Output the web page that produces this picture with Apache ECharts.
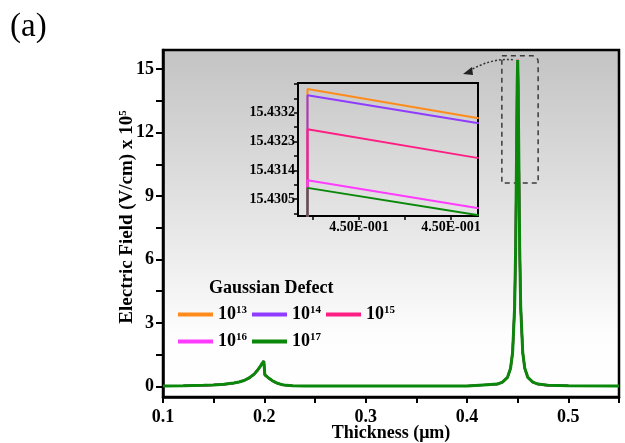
<!DOCTYPE html>
<html>
<head>
<meta charset="utf-8">
<script src="https://cdn.jsdelivr.net/npm/echarts@6/dist/echarts.min.js"></script>
<style>
  html, body { margin: 0; padding: 0; background: #fff; }
  #c { width: 625px; height: 443px; }
</style>
</head>
<body>
<div id="c"></div>
<script>
// Thickness (µm) sample positions of the field profile
const thickness = [0.10, 0.12, 0.14, 0.15, 0.16, 0.17, 0.175, 0.18, 0.185, 0.19, 0.193, 0.196, 0.198, 0.1995, 0.2, 0.2005,
  0.202, 0.205, 0.208, 0.211, 0.214, 0.218, 0.222, 0.228, 0.24, 0.26, 0.30, 0.35, 0.40, 0.42, 0.43, 0.435, 0.44, 0.443,
  0.445, 0.447, 0.448, 0.449, 0.4495, 0.45, 0.4505, 0.451, 0.452, 0.453, 0.455, 0.457, 0.46, 0.465, 0.47, 0.48, 0.50, 0.55];
// Electric field (x 10^5 V/cm); the value at 0.45 µm is the per-dose peak below
const field = [0.02, 0.03, 0.05, 0.07, 0.10, 0.16, 0.21, 0.28, 0.40, 0.58, 0.75, 0.95, 1.10, 1.20, 1.24, 0.55,
  0.48, 0.37, 0.27, 0.19, 0.13, 0.08, 0.05, 0.03, 0.02, 0.02, 0.02, 0.02, 0.02, 0.08, 0.11, 0.20, 0.43, 0.86,
  1.6, 3.75, 6.5, 11.5, 14.2, null, 14.2, 11.5, 6.5, 3.75, 1.6, 0.86, 0.43, 0.20, 0.11, 0.05, 0.03, 0.02];
const peakIndex = 39;

// Gaussian defect doses (exponent of 10)
const doseExp = ['13', '14', '15', '16', '17'];
const doseColors = ['#ff8c1a', '#8f3cff', '#ff1f84', '#ff3cff', '#0a880a'];

// Zoomed peak region: field at the left edge and at the right edge of the window
const zoomX = [0.4499944, 0.4500130];
const peakLeft = [15.43394, 15.43375, 15.43268, 15.43109, 15.43085];
const peakRight = [15.43303, 15.43287, 15.43178, 15.43021, 15.42999];
const zoomFloor = 15.4290;

// Axis tick values
const mainXLabels = [0.1, 0.2, 0.3, 0.4, 0.5];
const mainXTicks = [0.1, 0.15, 0.2, 0.25, 0.3, 0.35, 0.4, 0.45, 0.5, 0.55];
const mainYLabels = [0, 3, 6, 9, 12, 15];
const mainYTicks = [0, 1.5, 3, 4.5, 6, 7.5, 9, 10.5, 12, 13.5, 15];
const zoomXLabels = [0.45000, 0.45001];
const zoomXTicks = [0.449995, 0.45000, 0.450005, 0.45001];
const zoomYLabels = [15.4305, 15.4314, 15.4323, 15.4332];
const zoomYTicks = [15.43005, 15.4305, 15.43095, 15.4314, 15.43185, 15.4323, 15.43275, 15.4332, 15.43365, 15.4341];

const FONT = 'Liberation Serif';
const seriesName = e => 'N' + e;

function sci(v) {
  const parts = v.toExponential(2).split('e');
  const e = parseInt(parts[1], 10);
  return parts[0] + 'E' + (e < 0 ? '-' : '+') + String(Math.abs(e)).padStart(3, '0');
}

const last = doseExp.length - 1;
const series = [];
doseExp.forEach((e, i) => {
  const data = thickness.map((x, k) => [x, k === peakIndex ? peakLeft[i] : field[k]]);
  series.push({
    name: seriesName(e), type: 'line', xAxisIndex: 0, yAxisIndex: 0,
    data, showSymbol: false, symbol: 'none', animation: false,
    color: doseColors[i],
    lineStyle: { width: i === last ? 3 : 2.2, color: doseColors[i] }
  });
});
doseExp.forEach((e, i) => {
  series.push({
    name: seriesName(e), type: 'line', xAxisIndex: 1, yAxisIndex: 1,
    data: [[zoomX[0], zoomFloor], [zoomX[0], peakLeft[i]], [zoomX[1], peakRight[i]]],
    showSymbol: false, symbol: 'none', animation: false, clip: true,
    color: doseColors[i],
    lineStyle: { width: 2, color: doseColors[i] }
  });
});

const legendCommon = {
  icon: 'rect', itemWidth: 35, itemHeight: 4, itemGap: 5, orient: 'horizontal',
  selectedMode: false,
  formatter: name => '{b|10}{s|' + name.slice(1) + '}',
  textStyle: {
    rich: {
      b: { fontFamily: FONT, fontWeight: 'bold', fontSize: 18, color: '#000' },
      s: { fontFamily: FONT, fontWeight: 'bold', fontSize: 11, color: '#000', verticalAlign: 'top', padding: [0, 0, 8, 0] }
    }
  }
};

const option = {
  animation: false,
  title: [
    { text: '(a)', left: 5, top: 6, textStyle: { fontFamily: FONT, fontWeight: 'normal', fontSize: 33, color: '#000' } },
    { text: 'Gaussian Defect', left: 204, top: 274, textStyle: { fontFamily: FONT, fontWeight: 'bold', fontSize: 18, color: '#000' } }
  ],
  legend: [
    Object.assign({ left: 173, top: 300, data: doseExp.slice(0, 3).map(seriesName) }, legendCommon),
    Object.assign({ left: 173, top: 327, data: doseExp.slice(3).map(seriesName) }, legendCommon)
  ],
  grid: [
    {
      left: 163, top: 50, right: 6, bottom: 46, show: true,
      outerBoundsMode: 'none', containLabel: false,
      borderColor: '#000', borderWidth: 2.5,
      backgroundColor: {
        type: 'linear', x: 0, y: 0, x2: 0, y2: 1,
        colorStops: [
          { offset: 0, color: '#c3c3c3' },
          { offset: 0.5, color: '#e6e6e6' },
          { offset: 0.82, color: '#fdfdfd' },
          { offset: 1, color: '#ffffff' }
        ]
      }
    },
    {
      left: 298, top: 83, width: 180, height: 133, show: true,
      outerBoundsMode: 'none', containLabel: false,
      borderColor: '#000', borderWidth: 2, backgroundColor: 'transparent'
    }
  ],
  xAxis: [
    {
      type: 'value', gridIndex: 0, min: 0.1, max: 0.55,
      name: 'Thickness (μm)', nameLocation: 'middle', nameGap: 27, nameMoveOverlap: false,
      nameTextStyle: { fontFamily: FONT, fontWeight: 'bold', fontSize: 18, color: '#000' },
      axisLine: { show: true, onZero: false, lineStyle: { color: '#000', width: 2.5 } },
      axisTick: { show: true, inside: false, length: 6, customValues: mainXTicks, lineStyle: { color: '#000', width: 2 } },
      axisLabel: { customValues: mainXLabels, margin: 11, fontFamily: FONT, fontWeight: 'bold', fontSize: 18, color: '#000', formatter: v => v.toFixed(1) },
      splitLine: { show: false }
    },
    {
      type: 'value', gridIndex: 1, min: 0.44999337, max: 0.45001293,
      axisLine: { show: true, onZero: false, lineStyle: { color: '#000', width: 2 } },
      axisTick: { show: true, inside: false, length: 4, customValues: zoomXTicks, lineStyle: { color: '#000', width: 1.5 } },
      axisLabel: { customValues: zoomXLabels, margin: 4, fontFamily: FONT, fontWeight: 'bold', fontSize: 14, color: '#000', formatter: sci },
      splitLine: { show: false }
    }
  ],
  yAxis: [
    {
      type: 'value', gridIndex: 0, min: -0.5, max: 15.9,
      axisLine: { show: true, onZero: false, lineStyle: { color: '#000', width: 2.5 } },
      axisTick: { show: true, inside: false, length: 7, customValues: mainYTicks, lineStyle: { color: '#000', width: 2 } },
      axisLabel: { customValues: mainYLabels, margin: 9, fontFamily: FONT, fontWeight: 'bold', fontSize: 18, color: '#000' },
      splitLine: { show: false }
    },
    {
      type: 'value', gridIndex: 1, min: 15.42997, max: 15.43413,
      axisLine: { show: true, onZero: false, lineStyle: { color: '#000', width: 2 } },
      axisTick: { show: true, inside: false, length: 4, customValues: zoomYTicks, lineStyle: { color: '#000', width: 1.5 } },
      axisLabel: { customValues: zoomYLabels, margin: 3, fontFamily: FONT, fontWeight: 'bold', fontSize: 14, color: '#000', formatter: v => v.toFixed(4) },
      splitLine: { show: false }
    }
  ],
  series
};

const chart = echarts.init(document.getElementById('c'), null, { renderer: 'canvas' });
chart.setOption(option);

// Annotations: y-axis title, dashed box around the peak top and the pointer to the zoomed window
const boxTL = chart.convertToPixel({ gridIndex: 0 }, [0.4344, 15.63]);
const boxBR = chart.convertToPixel({ gridIndex: 0 }, [0.4702, 9.62]);
const insetTR = chart.convertToPixel({ gridIndex: 1 }, [0.45001293, 15.43413]);
const bx0 = boxTL[0], by0 = boxTL[1], bx1 = boxBR[0], by1 = boxBR[1];
const startPt = [bx0 + 11, by0 + 4];
const endPt = [insetTR[0] - 15, insetTR[1] - 9];

chart.setOption({
  graphic: [
    {
      type: 'text', x: 127, y: 217, rotation: Math.PI / 2,
      style: {
        text: '{b|Electric Field (V/cm) x 10}{s|5}',
        align: 'center', verticalAlign: 'middle',
        rich: {
          b: { fontFamily: FONT, fontWeight: 'bold', fontSize: 19, fill: '#000' },
          s: { fontFamily: FONT, fontWeight: 'bold', fontSize: 11, fill: '#000', verticalAlign: 'top', padding: [0, 0, 8, 0] }
        }
      }
    },
    {
      type: 'rect', silent: true,
      shape: { x: bx0, y: by0, width: bx1 - bx0, height: by1 - by0, r: [0, 6, 0, 0] },
      style: { fill: 'none', stroke: '#3a3a3a', lineWidth: 1.5, lineDash: [5, 4] }
    },
    {
      type: 'bezierCurve', silent: true,
      shape: {
        x1: startPt[0], y1: startPt[1], x2: endPt[0] + 4, y2: endPt[1] - 2,
        cpx1: startPt[0] - 22, cpy1: startPt[1] - 2
      },
      style: { fill: 'none', stroke: '#333', lineWidth: 1.5, lineDash: [2, 2] }
    },
    {
      type: 'polygon', silent: true,
      shape: { points: [[endPt[0], endPt[1]], [endPt[0] + 9, endPt[1] - 7], [endPt[0] + 10, endPt[1] + 1]] },
      style: { fill: '#222' }
    }
  ]
});
</script>
</body>
</html>
